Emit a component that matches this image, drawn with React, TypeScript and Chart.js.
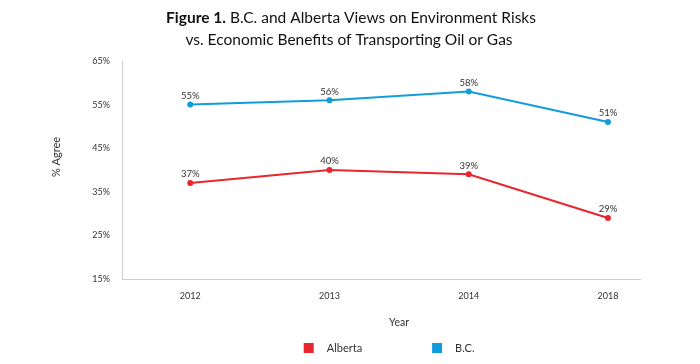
import React, { useEffect, useRef } from "react";
import { Chart, registerables } from "chart.js";

Chart.register(...registerables);

const years = ["2012", "2013", "2014", "2018"];
const albertaValues = [37, 40, 39, 29];
const bcValues = [55, 56, 58, 51];
const yTicks = [15, 25, 35, 45, 55, 65];
const titleBold = "Figure 1.";
const titleLine1Rest = " B.C. and Alberta Views on Environment Risks";
const titleLine2 = "vs. Economic Benefits of Transporting Oil or Gas";

const RED = "#e8262d";
const BLUE = "#119cdd";
const TEXT = "#333333";
const FONT = "Lato, 'Noto Sans', sans-serif";

const overlayPlugin = {
  id: "overlay",
  afterDraw(chart: any) {
    const ctx = chart.ctx as CanvasRenderingContext2D;
    const xs = chart.scales.x;
    ctx.save();
    // Title
    ctx.fillStyle = "#111";
    ctx.textBaseline = "middle";
    ctx.font = `bold 15.5px ${FONT}`;
    const wb = ctx.measureText(titleBold).width;
    ctx.font = `15.5px ${FONT}`;
    const wr = ctx.measureText(titleLine1Rest).width;
    const start = 351 - (wb + wr) / 2;
    ctx.textAlign = "left";
    ctx.font = `bold 15.5px ${FONT}`;
    ctx.fillText(titleBold, start, 18);
    ctx.font = `15.5px ${FONT}`;
    ctx.fillText(titleLine1Rest, start + wb, 18);
    ctx.textAlign = "center";
    ctx.fillText(titleLine2, 349, 40);

    // Data labels
    ctx.font = `9.5px ${FONT}`;
    ctx.fillStyle = TEXT;
    ctx.textAlign = "center";
    ctx.textBaseline = "bottom";
    chart.data.datasets.forEach((ds: any, i: number) => {
      const meta = chart.getDatasetMeta(i);
      meta.data.forEach((pt: any, j: number) => {
        ctx.fillText(ds.data[j].y + "%", pt.x, pt.y - 4);
      });
    });

    // Axis titles
    const midX = (xs.getPixelForValue(0) + xs.getPixelForValue(years.length - 1)) / 2;
    ctx.font = `10.5px ${FONT}`;
    ctx.textBaseline = "middle";
    ctx.fillText("Year", midX, 323);
    ctx.save();
    ctx.translate(56, 157);
    ctx.rotate(-Math.PI / 2);
    ctx.font = `11px ${FONT}`;
    ctx.fillText("% Agree", 0, 0);
    ctx.restore();

    // Legend
    const items = [
      { label: "Alberta", color: RED },
      { label: "B.C.", color: BLUE },
    ];
    ctx.font = `11px ${FONT}`;
    const box = 10;
    const gapBoxText = 13;
    const gapItems = 70;
    const widths = items.map((it) => box + gapBoxText + ctx.measureText(it.label).width);
    const total = widths.reduce((a, b) => a + b, 0) + gapItems * (items.length - 1);
    let x = midX - 10 - total / 2;
    const ly = 348;
    items.forEach((it, k) => {
      ctx.fillStyle = it.color;
      ctx.fillRect(x, ly - box / 2, box, box);
      ctx.fillStyle = TEXT;
      ctx.textAlign = "left";
      ctx.fillText(it.label, x + box + gapBoxText, ly);
      x += widths[k] + gapItems;
    });
    ctx.restore();
  },
};

export default function App() {
  const ref = useRef<HTMLCanvasElement | null>(null);
  useEffect(() => {
    document.body.style.margin = "0";
    const toPts = (arr: number[]) => arr.map((v, i) => ({ x: i, y: v }));
    const chart = new Chart(ref.current!, {
      type: "line",
      data: {
        datasets: [
          {
            label: "B.C.",
            data: toPts(bcValues),
            borderColor: BLUE,
            backgroundColor: BLUE,
            borderWidth: 2,
            pointRadius: 2,
            pointHoverRadius: 2,
            tension: 0,
          },
          {
            label: "Alberta",
            data: toPts(albertaValues),
            borderColor: RED,
            backgroundColor: RED,
            borderWidth: 2,
            pointRadius: 2,
            pointHoverRadius: 2,
            tension: 0,
          },
        ],
      },
      options: {
        animation: false,
        responsive: false,
        layout: { padding: { top: 61, right: 60, left: 0, bottom: 0 } },
        plugins: { legend: { display: false }, title: { display: false }, tooltip: { enabled: false } },
        scales: {
          x: {
            type: "linear",
            min: -0.49,
            max: 3.23,
            afterBuildTicks: (scale: any) => {
              scale.ticks = years.map((_, i) => ({ value: i }));
            },
            afterFit: (scale: any) => {
              scale.height = 85;
            },
            grid: { display: false, drawTicks: false },
            border: { display: true, color: "#cccccc", width: 1 },
            ticks: {
              callback: (v: any) => years[v] ?? "",
              color: TEXT,
              font: { family: FONT, size: 9 },
              padding: 12,
              maxRotation: 0,
            },
          },
          y: {
            min: 15,
            max: 65,
            afterBuildTicks: (scale: any) => {
              scale.ticks = yTicks.map((v) => ({ value: v }));
            },
            afterFit: (scale: any) => {
              scale.width = 122;
            },
            grid: { display: false, drawTicks: false },
            border: { display: true, color: "#cccccc", width: 1 },
            ticks: {
              callback: (v: any) => v + "%",
              color: TEXT,
              font: { family: FONT, size: 9 },
              padding: 12,
            },
          },
        },
      },
      plugins: [overlayPlugin],
    } as any);
    return () => chart.destroy();
  }, []);
  return (
    <div style={{ width: 700, height: 364, background: "#fff" }}>
      <canvas ref={ref} width={700} height={364} style={{ display: "block" }} />
    </div>
  );
}
